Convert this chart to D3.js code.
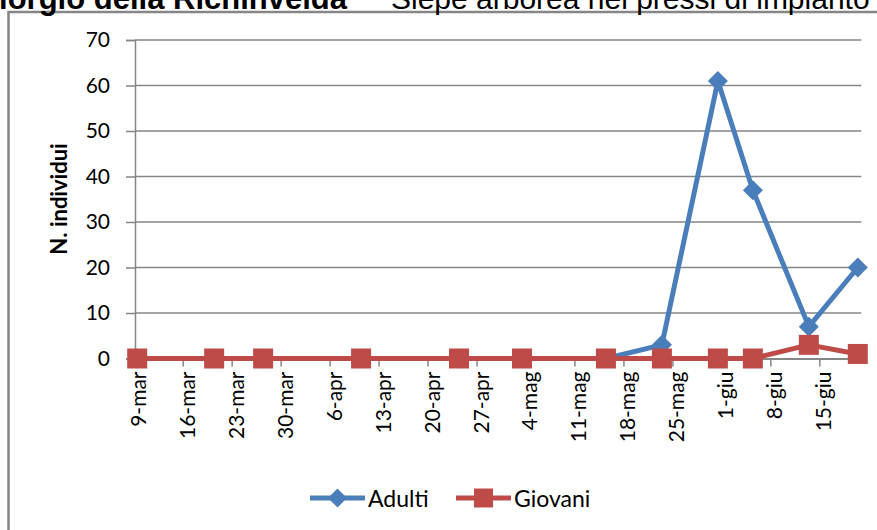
<!DOCTYPE html>
<html>
<head>
<meta charset="utf-8">
<script src="https://cdn.jsdelivr.net/npm/d3@7"></script>
<style>
  body { margin: 0; background: #fff; }
  svg { display: block; }
</style>
</head>
<body>
<div id="chart"></div>
<script>
// sampling dates and counts
const dates = ['2009-03-09', '2009-03-20', '2009-03-27', '2009-04-10', '2009-04-24', '2009-05-03',
  '2009-05-15', '2009-05-23', '2009-05-31', '2009-06-05', '2009-06-13', '2009-06-20']
const adulti = [0, 0, 0, 0, 0, 0, 0, 3, 61, 37, 7, 20]
const giovani = [0, 0, 0, 0, 0, 0, 0, 0, 0, 0, 3, 1]
const yTicks = [0, 10, 20, 30, 40, 50, 60, 70]
const shortMonths = ['gen', 'feb', 'mar', 'apr', 'mag', 'giu', 'lug', 'ago', 'set', 'ott', 'nov', 'dic']
const axisStart = '2009-03-09'
const axisEnd = '2009-06-21'

const width = 877
const height = 530
const blue = '#4A7EBB'
const red = '#BE4B48'
const grid = '#868686'
const font = 'Lato, sans-serif'

const parse = d3.utcParse('%Y-%m-%d')
const it = d3.timeFormatLocale({
  dateTime: '%A %e %B %Y, %X',
  date: '%d/%m/%Y',
  time: '%H:%M:%S',
  periods: ['AM', 'PM'],
  days: ['domenica', 'lunedì', 'martedì', 'mercoledì', 'giovedì', 'venerdì', 'sabato'],
  shortDays: ['dom', 'lun', 'mar', 'mer', 'gio', 'ven', 'sab'],
  months: ['gennaio', 'febbraio', 'marzo', 'aprile', 'maggio', 'giugno', 'luglio', 'agosto', 'settembre', 'ottobre', 'novembre', 'dicembre'],
  shortMonths: shortMonths
})

// excel style diamond: a square turned 45 degrees
const diamond = {
  draw: function (context, size) {
    const r = Math.sqrt(size / 2)
    context.moveTo(0, -r)
    context.lineTo(r, 0)
    context.lineTo(0, r)
    context.lineTo(-r, 0)
    context.closePath()
  }
}

const svg = d3.select('#chart')
  .append('svg')
  .attr('width', width)
  .attr('height', height)

// outer frame
svg.append('rect')
  .attr('x', 8.5)
  .attr('y', 12)
  .attr('width', 900)
  .attr('height', 600)
  .attr('fill', 'none')
  .attr('stroke', grid)
  .attr('stroke-width', 2.5)

// title, cut off at the top of the picture
svg.append('text')
  .attr('x', 347)
  .attr('y', 9)
  .attr('text-anchor', 'end')
  .attr('font-family', 'Liberation Sans, Arial, sans-serif')
  .attr('font-size', 31)
  .attr('font-weight', 'bold')
  .text('S. Giorgio della Richinvelda')
svg.append('text')
  .attr('x', 391)
  .attr('y', 9)
  .attr('font-family', 'Liberation Sans, Arial, sans-serif')
  .attr('font-size', 30)
  .text('Siepe arborea nei pressi di impianto')

const x = d3.scaleUtc()
  .domain([parse(axisStart), parse(axisEnd)])
  .range([133.7, 861.3])

const y = d3.scaleLinear()
  .domain([0, 70])
  .range([358.5, 40])

const mid = function (s) { return d3.utcHour.offset(parse(s), 12) }

// gridlines
svg.append('g')
  .selectAll('line')
  .data(yTicks.slice(1))
  .join('line')
  .attr('x1', 135)
  .attr('x2', x.range()[1])
  .attr('y1', function (d) { return y(d) })
  .attr('y2', function (d) { return y(d) })
  .attr('stroke', grid)
  .attr('stroke-width', 1.5)

// y axis
const yAxis = svg.append('g')
  .attr('transform', 'translate(135,0)')
  .call(d3.axisLeft(y).tickValues(yTicks).tickSize(9).tickPadding(16))
yAxis.select('.domain').attr('stroke', grid).attr('stroke-width', 1.5)
yAxis.selectAll('.tick line').attr('stroke', grid).attr('stroke-width', 1.5)
yAxis.selectAll('.tick text')
  .attr('font-family', font)
  .attr('font-size', 21)
  .attr('fill', '#000')

// x axis
const xTicks = d3.utcDay.range(parse(axisStart), parse(axisEnd), 7)
const xAxis = svg.append('g')
  .attr('transform', 'translate(0,' + y(0) + ')')
  .call(d3.axisBottom(x).tickValues(xTicks).tickFormat(it.utcFormat('%-d-%b')).tickSize(8).tickSizeOuter(0))
xAxis.select('.domain').attr('stroke', grid).attr('stroke-width', 2)
xAxis.selectAll('.tick line').attr('stroke', grid).attr('stroke-width', 1.5)
xAxis.selectAll('.tick text')
  .attr('font-family', font)
  .attr('font-size', 21)
  .attr('fill', '#000')
  .attr('text-anchor', 'end')
  .attr('dominant-baseline', 'central')
  .attr('transform', 'translate(3,13) rotate(-90)')
  .attr('x', 0)
  .attr('y', 0)
  .attr('dy', null)

// y axis title
svg.append('text')
  .attr('transform', 'translate(58,199) rotate(-90)')
  .attr('text-anchor', 'middle')
  .attr('dominant-baseline', 'central')
  .attr('font-family', font)
  .attr('font-weight', 'bold')
  .attr('font-size', 22)
  .text('N. individui')

const line = d3.line()
  .x(function (d) { return x(mid(d.date)) })
  .y(function (d) { return y(d.value) })

const series = [
  { name: 'Adulti', color: blue, shape: diamond, size: 200, values: adulti },
  { name: 'Giovani', color: red, shape: d3.symbolSquare, size: 400, values: giovani }
]

series.forEach(function (s) {
  const data = dates.map(function (d, i) { return { date: d, value: s.values[i] } })
  svg.append('path')
    .datum(data)
    .attr('fill', 'none')
    .attr('stroke', s.color)
    .attr('stroke-width', 5)
    .attr('stroke-linejoin', 'round')
    .attr('d', line)
  svg.append('g')
    .selectAll('path')
    .data(data)
    .join('path')
    .attr('transform', function (d) { return 'translate(' + x(mid(d.date)) + ',' + y(d.value) + ')' })
    .attr('d', d3.symbol().type(s.shape).size(s.size))
    .attr('fill', s.color)
})

// legend
const legend = svg.append('g')
const legendX = [310, 456]
series.forEach(function (s, i) {
  const g = legend.append('g').attr('transform', 'translate(' + legendX[i] + ',498)')
  g.append('line')
    .attr('x1', 0)
    .attr('x2', 55)
    .attr('stroke', s.color)
    .attr('stroke-width', 5)
  g.append('path')
    .attr('transform', 'translate(27.5,0)')
    .attr('d', d3.symbol().type(s.shape).size(s.size * 0.9))
    .attr('fill', s.color)
  g.append('text')
    .attr('x', 58)
    .attr('dominant-baseline', 'central')
    .attr('font-family', font)
    .attr('font-size', 23)
    .text(s.name)
})
</script>
</body>
</html>
